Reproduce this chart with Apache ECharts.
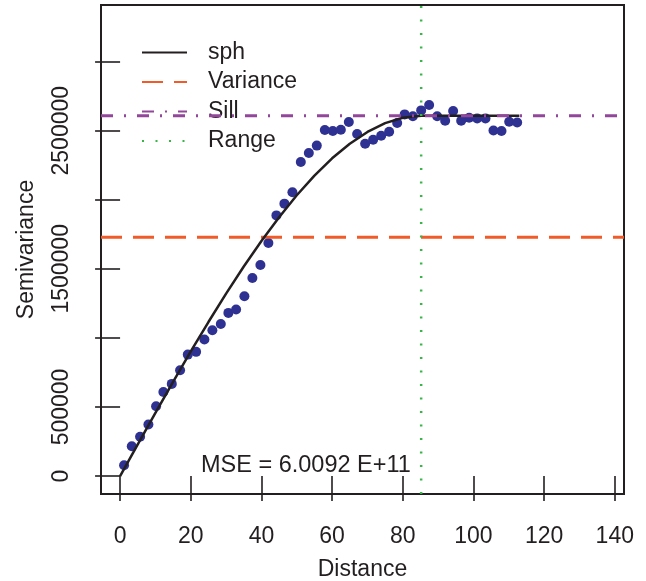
<!DOCTYPE html>
<html>
<head>
<meta charset="utf-8">
<script src="https://cdn.jsdelivr.net/npm/echarts@6/dist/echarts.min.js"></script>
<style>html,body{margin:0;padding:0;background:#fff}#c{width:646px;height:581px}</style>
</head>
<body>
<div id="c"></div>
<script>
// Empirical semivariogram points
const distance = [1.13,3.31,5.66,8.01,10.19,12.25,14.63,16.98,19.16,21.51,23.86,26.12,28.50,30.65,32.83,35.18,37.44,39.71,41.97,44.24,46.50,48.77,51.14,53.41,55.67,57.94,60.20,62.47,64.73,67.08,69.35,71.61,73.88,76.14,78.41,80.53,82.85,85.20,87.46,89.73,91.99,94.25,96.52,98.78,101.05,103.40,105.66,107.93,110.11,112.37];
const semivariance = [78000,216000,284000,373000,505000,609000,667000,766000,879000,899000,989000,1055000,1101000,1181000,1205000,1301000,1434000,1528000,1687000,1887000,1972000,2055000,2274000,2339000,2392000,2505000,2498000,2507000,2563000,2476000,2406000,2435000,2464000,2493000,2556000,2618000,2604000,2647000,2686000,2604000,2572000,2643000,2572000,2594000,2589000,2589000,2502000,2498000,2565000,2560000];
// Fitted spherical model curve
const sphX = [0,5,10,15,20,25,30,35,40,45,50,55,60,65,70,75,80,85.2,113];
const sphY = [0,229000,457000,682000,902000,1115000,1321000,1517000,1702000,1874000,2033000,2175000,2300000,2406000,2491000,2555000,2594000,2608500,2608500];
const varianceValue = 1728000;
const sillValue = 2608500;
const rangeValue = 85.2;
const xTicks = [0,20,40,60,80,100,120,140];
const yTicks = [0,500000,1000000,1500000,2000000,2500000,3000000];
const yLabels = [0,500000,1500000,2500000];
const mseText = 'MSE = 6.0092 E+11';

const XMIN = -5.4, XMAX = 142.6, YMIN = -130000, YMAX = 3410000;
const ink = '#231F20';
const font = 'Liberation Sans, Arial, Helvetica, sans-serif';

const chart = echarts.init(document.getElementById('c'), null, {renderer:'canvas'});
chart.setOption({
  animation: false,
  backgroundColor: '#fff',
  title: {
    text: mseText, left: 196, top: 449,
    textStyle: {fontFamily: font, fontSize: 23.5, fontWeight: 'normal', color: ink}
  },
  legend: {
    orient: 'vertical', left: 141, top: 41, padding: 0,
    itemWidth: 45, itemHeight: 14, itemGap: 6.5,
    data: ['sph','Variance','Sill','Range'],
    itemStyle: {opacity: 0},
    textStyle: {fontFamily: font, fontSize: 23, color: ink, lineHeight: 23, padding: [0,0,0,16]}
  },
  grid: {left: 101, right: 22, top: 5, bottom: 87, containLabel: false, outerBoundsMode: 'none',
         show: true, borderColor: ink, borderWidth: 2, backgroundColor: 'transparent'},
  xAxis: {
    type: 'value', min: XMIN, max: XMAX,
    name: 'Distance', nameLocation: 'middle', nameGap: 64,
    nameTextStyle: {fontFamily: font, fontSize: 23, color: ink},
    axisLine: {show: false},
    splitLine: {show: false},
    axisTick: {show: true, length: 25, inside: false, customValues: xTicks, lineStyle: {color: ink, width: 1.6}},
    axisLabel: {customValues: xTicks, margin: 31, fontFamily: font, fontSize: 23, color: ink, formatter: v => String(v)}
  },
  yAxis: {
    type: 'value', min: YMIN, max: YMAX,
    name: 'Semivariance', nameLocation: 'middle', nameGap: 63,
    nameTextStyle: {fontFamily: font, fontSize: 23, color: ink},
    axisLine: {show: false},
    splitLine: {show: false},
    axisTick: {show: true, length: 25, inside: false, customValues: yTicks, lineStyle: {color: ink, width: 1.6}},
    axisLabel: {customValues: yLabels, rotate: 90, margin: 28, fontFamily: font, fontSize: 23, color: ink, formatter: v => String(v)}
  },
  series: [
    {
      name: 'points', type: 'scatter', silent: true, z: 2,
      data: distance.map((d,i)=>[d, semivariance[i]]),
      symbol: 'circle', symbolSize: 10,
      itemStyle: {color: '#2E3192', opacity: 1}
    },
    {
      name: 'Variance', type: 'line', silent: true, z: 3, symbol: 'none',
      data: [[XMIN, varianceValue],[XMAX, varianceValue]],
      lineStyle: {color: '#F15A29', width: 3, type: [21, 11]},
      itemStyle: {color: '#F15A29'}
    },
    {
      name: 'sph', type: 'line', silent: true, z: 4, symbol: 'none',
      data: sphX.map((d,i)=>[d, sphY[i]]),
      lineStyle: {color: ink, width: 2.5, type: 'solid'},
      itemStyle: {color: ink}
    },
    {
      name: 'Sill', type: 'line', silent: true, z: 5, symbol: 'none',
      data: [[XMIN, sillValue],[XMAX, sillValue]],
      lineStyle: {color: '#92479A', width: 3, type: [12, 11, 2, 11]},
      itemStyle: {color: '#92479A'}
    },
    {
      name: 'Range', type: 'line', silent: true, z: 6, symbol: 'none',
      data: [[rangeValue, YMIN],[rangeValue, YMAX]],
      lineStyle: {color: '#39B54A', width: 2.5, type: [2, 11.5]},
      itemStyle: {color: '#39B54A'}
    }
  ]
});
</script>
</body>
</html>
